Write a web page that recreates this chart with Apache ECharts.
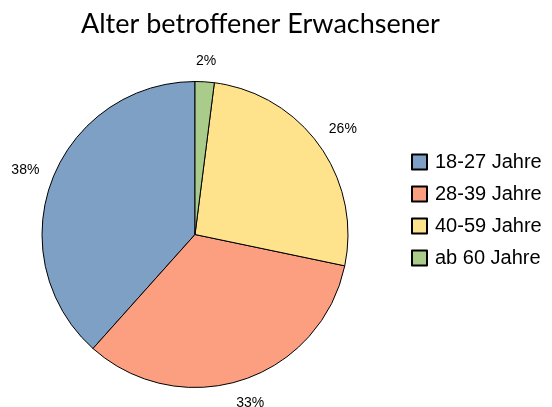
<!DOCTYPE html>
<html lang="de">
<head>
    <meta charset="UTF-8">
    <title>Alter betroffener Erwachsener</title>
    <script src="https://cdn.jsdelivr.net/npm/echarts@6/dist/echarts.min.js"></script>
</head>
<style>
    html, body { margin: 0; padding: 0; background: #fff; }
    #pie { width: 552px; height: 407px; }
</style>
<body>
<div id="pie"></div>
<script>
    var categories = ['18-27 Jahre', '28-39 Jahre', '40-59 Jahre', 'ab 60 Jahre'];
    var shares = [38, 33, 26, 2];
    var colors = ['#7da0c4', '#fc9f80', '#ffe38c', '#a9cc8b'];

    var cx = 195, cy = 234.5, radius = 153;
    var labelGap = 166; // distance from centre to the nearest side of a label box

    var total = 0;
    for (var i = 0; i < shares.length; i++) total += shares[i];

    var myChart = echarts.init(document.getElementById('pie'));
    var data = [];
    for (var i = 0; i < categories.length; i++) {
        data.push({
            name: categories[i],
            value: shares[i],
            itemStyle: { color: colors[i] }
        });
    }

    function midAngle(idx) {
        var before = 0;
        for (var j = 0; j < idx; j++) before += shares[j];
        return (before + shares[idx] / 2) / total * Math.PI * 2;
    }

    var option = {
        animation: false,
        title: {
            text: 'Alter betroffener Erwachsener',
            left: 76,
            top: 6,
            textStyle: {
                fontFamily: 'Lato',
                fontWeight: 'normal',
                fontSize: 27,
                color: '#000'
            }
        },
        legend: {
            orient: 'vertical',
            left: 406,
            top: 147,
            itemWidth: 15,
            itemHeight: 15,
            itemGap: 12,
            icon: 'rect',
            data: categories,
            textStyle: {
                fontFamily: 'Liberation Sans',
                fontSize: 20,
                lineHeight: 19,
                color: '#000',
                padding: [0, 0, 0, 3]
            }
        },
        series: [{
            type: 'pie',
            center: [cx, cy],
            radius: radius,
            startAngle: 90,
            clockwise: false,
            data: data,
            itemStyle: {
                borderColor: '#000',
                borderWidth: 1
            },
            label: {
                position: 'outside',
                formatter: '{c}%',
                overflow: 'none',
                fontFamily: 'Liberation Sans',
                fontSize: 14,
                color: '#000'
            },
            labelLine: {
                show: false,
                length: 10,
                length2: 0
            },
            labelLayout: function (p) {
                var a = midAngle(p.dataIndex);
                var dx = -Math.sin(a), dy = -Math.cos(a);
                var w = p.labelRect.width, h = p.labelRect.height;
                var d = labelGap + Math.abs(dx) * w / 2 + Math.abs(dy) * h / 2;
                return {
                    x: cx + dx * d,
                    y: cy + dy * d,
                    align: 'center',
                    verticalAlign: 'middle'
                };
            },
            emphasis: { disabled: true }
        }]
    };
    myChart.setOption(option);
</script>
</body>
</html>
